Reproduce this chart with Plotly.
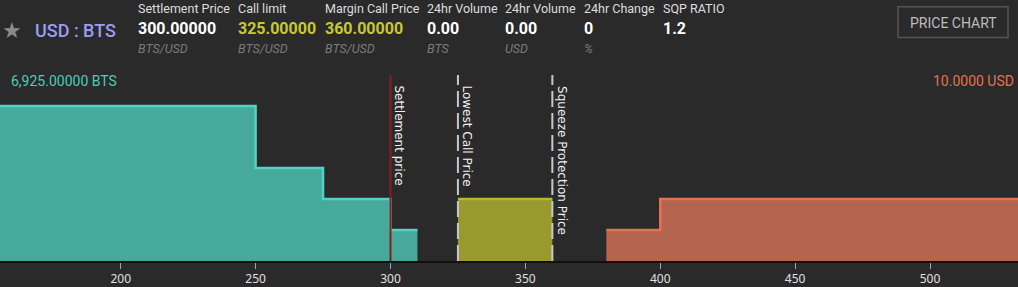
import plotly.graph_objects as go

# ---- data ----
bid_prices = [150, 250, 275, 300, 310]
bid_depth = [5, 3, 2, 1, 1]
call_prices = [325, 360]
call_depth = [2, 2]
ask_prices = [380, 400, 545]
ask_depth = [1, 2, 2]
settlement_price = 300
lowest_call_price = 325
squeeze_price = 360
tick_vals = [200, 250, 300, 350, 400, 450, 500]
x_range = [155.26, 532.6]
y_range = [0, 6]

header_labels = ["Settlement Price", "Call limit", "Margin Call Price", "24hr Volume",
                 "24hr Volume", "24hr Change", "SQP RATIO"]
header_values = ["300.00000", "325.00000", "360.00000", "0.00", "0.00", "0", "1.2"]
header_units = ["BTS/USD", "BTS/USD", "BTS/USD", "BTS", "USD", "%", ""]
header_x = [137, 237, 324, 426, 504, 583, 662]
header_value_colors = ["#ffffff", "#c9c830", "#c9c830", "#ffffff", "#ffffff", "#ffffff", "#ffffff"]

W, H = 1018, 287
TOP, BOT = 75, 263
BG = "#2a2a2a"


def px(x):
    return x / W


def py(y):
    return (BOT - y) / (BOT - TOP)


fig = go.Figure()

fig.add_trace(go.Scatter(x=bid_prices, y=bid_depth, mode="lines", line_shape="hv",
                         line=dict(color="#4fd3c4", width=2.5), fill="tozeroy",
                         fillcolor="#46a99c", hoverinfo="skip", showlegend=False))
fig.add_trace(go.Scatter(x=call_prices, y=call_depth, mode="lines", line_shape="hv",
                         line=dict(color="#b9b929", width=2.5), fill="tozeroy",
                         fillcolor="#999a2e", hoverinfo="skip", showlegend=False))
fig.add_trace(go.Scatter(x=ask_prices, y=ask_depth, mode="lines", line_shape="hv",
                         line=dict(color="#e8704f", width=2.5), fill="tozeroy",
                         fillcolor="#b5644f", hoverinfo="skip", showlegend=False))

# vertical reference lines
fig.add_shape(type="line", x0=settlement_price, x1=settlement_price, y0=0, y1=1,
              xref="x", yref="paper", line=dict(color="#8b1c1c", width=2))
for xv in (lowest_call_price, squeeze_price):
    fig.add_shape(type="line", x0=xv, x1=xv, y0=0, y1=1, xref="x", yref="paper",
                  line=dict(color="#c8c8c8", width=2, dash="16px,6px"))

for xv, txt in ((settlement_price, "Settlement price"),
                (lowest_call_price, "Lowest Call Price"),
                (squeeze_price, "Squeeze Protection Price")):
    fig.add_annotation(x=xv, y=py(84), xref="x", yref="paper", text=txt, textangle=90,
                       xanchor="left", yanchor="top", showarrow=False, xshift=0,
                       font=dict(family="DejaVu Sans", size=12, color="#f0f0f0"))

# depth labels
fig.add_annotation(x=px(9), y=py(81), xref="paper", yref="paper", text="6,925.00000 BTS",
                   xanchor="left", yanchor="middle", showarrow=False,
                   font=dict(family="Roboto", size=14, color="#4ecbbb"))
fig.add_annotation(x=px(1016), y=py(81), xref="paper", yref="paper", text="10.0000 USD",
                   xanchor="right", yanchor="middle", showarrow=False,
                   font=dict(family="Roboto", size=14, color="#e8704f"))

# header
fig.add_annotation(x=px(0), y=py(30), xref="paper", yref="paper", text="★",
                   xanchor="left", yanchor="middle", showarrow=False,
                   font=dict(family="DejaVu Sans", size=22, color="#8a8a8a"))
fig.add_annotation(x=px(33), y=py(30), xref="paper", yref="paper", text="USD : BTS",
                   xanchor="left", yanchor="middle", showarrow=False,
                   font=dict(family="Roboto", size=18, color="#9d9df2", weight=500))
for lab, val, unit, hx, vc in zip(header_labels, header_values, header_units, header_x,
                                  header_value_colors):
    fig.add_annotation(x=px(hx - 1), y=py(8), xref="paper", yref="paper", text=lab,
                       xanchor="left", yanchor="middle", showarrow=False,
                       font=dict(family="Roboto", size=12.5, color="#dddddd"))
    fig.add_annotation(x=px(hx - 1), y=py(28), xref="paper", yref="paper", text=val,
                       xanchor="left", yanchor="middle", showarrow=False,
                       font=dict(family="Roboto", size=16, color=vc, weight="bold"))
    if unit:
        fig.add_annotation(x=px(hx - 1), y=py(48), xref="paper", yref="paper",
                           text="<i>" + unit + "</i>", xanchor="left", yanchor="middle",
                           showarrow=False,
                           font=dict(family="Roboto", size=12.5, color="#7a7a7a"))

# PRICE CHART button
fig.add_shape(type="rect", x0=px(898), x1=px(1008), y0=py(37), y1=py(6), xref="paper",
              yref="paper", line=dict(color="#555555", width=1.5), fillcolor=BG)
fig.add_annotation(x=px(953), y=py(22), xref="paper", yref="paper", text="PRICE CHART",
                   xanchor="center", yanchor="middle", showarrow=False,
                   font=dict(family="Roboto", size=14, color="#bdbdbd"))

fig.update_layout(
    width=W, height=H,
    margin=dict(l=0, r=0, t=TOP, b=H - BOT, pad=0),
    paper_bgcolor=BG, plot_bgcolor=BG,
    showlegend=False,
    xaxis=dict(range=x_range, tickvals=tick_vals, showgrid=False, zeroline=False,
               showline=True, linecolor="#111111", linewidth=2,
               ticks="outside", ticklen=6, tickcolor="#9aa7b8", tickwidth=1,
               tickfont=dict(family="Noto Sans", size=12, color="#e0e0e0"),
               fixedrange=True),
    yaxis=dict(range=y_range, visible=False, showgrid=False, zeroline=False,
               fixedrange=True),
)

fig.write_html("out.html", config={"displayModeBar": False})
